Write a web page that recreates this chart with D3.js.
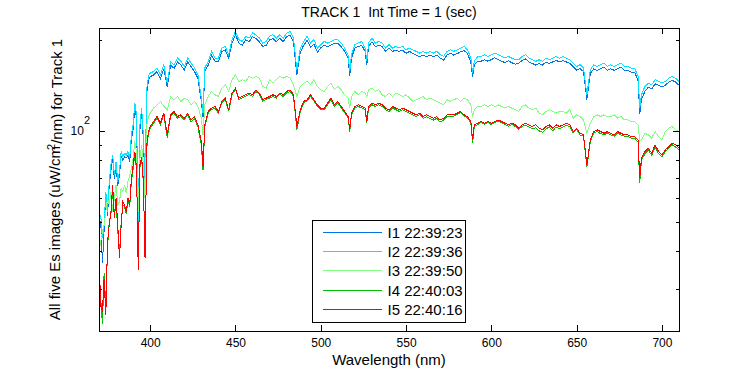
<!DOCTYPE html>
<html>
<head>
<meta charset="utf-8">
<script src="https://cdn.jsdelivr.net/npm/d3@7"></script>
<style>
body { margin: 0; background: #fff; }
svg { font-family: Arial, "Liberation Sans", sans-serif; }
.axis line { stroke: #000; shape-rendering: crispEdges; }
.axis text { font-size: 12px; fill: #000; }
</style>
</head>
<body>
<script>
// wavelength samples (nm)
const wavelengths = [370,371,372,373,374,375,376,377,378,379,380,381,382,383,384,385,386,387,388,389,390,391,392,393,394,395,396,397,398,399,400,
  402,404,406,408,410,412,414,416,418,420,422,424,426,428,430,431,432,434,436,438,
  440,442,444,446,448,450,452,454,456,458,460,462,464,466,468,470,472,474,476,478,480,482,484,486,488,490,492,494,496,498,500,502,504,506,508,
  510,512,514,516,517,518,520,522,524,526,527,528,530,532,534,536,538,540,542,544,546,548,550,552,554,556,558,560,562,564,566,568,570,572,574,576,
  578,580,582,584,586,588,589,590,592,594,596,598,600,602,604,606,608,610,612,614,616,618,620,622,624,626,628,630,632,634,636,638,640,642,644,646,
  648,650,652,654,656,658,660,662,664,666,668,670,672,674,676,678,680,682,684,686,687,688,690,692,694,696,698,700,702,704,706,708,710];

// Es images, uW/cm^2/nm
const I1 = [47.5,50.5,36.5,47,60.5,52.5,66,74,81,69.5,77,66,71.5,82.5,80,82,81.5,83,79,94,101,119,110,49,101,115,94,66,134,147,151,
  153,157,149,160,140,165,161,169,165,159,169,163,157,149,125,111,157,165,178,170,
  169,183,185,174,195,208,195,192,200,197,205,202,197,190,192,200,202,197,202,197,205,207,197,153,182,192,199,189,194,182,188,192,190,192,195,
  195,190,183,174,152,174,188,190,192,183,165,190,197,190,192,190,183,188,183,185,183,185,180.5,183,180.5,178,176,178,176,178,176,178,174,171.5,178,180.5,
  178,180,182.5,184.5,180,168.5,151,165,170,170,172,170,172,174.5,172,170,168,170.5,168,166,167,171,173,169,167,165,167,165,169,167,169,171,169,171,169,167,
  163,159,160.5,157,127,154.5,160.5,158.5,160.5,162.5,158.5,160.5,158.5,160.5,162.5,158.5,158.5,156.5,156.5,146.5,114,127,135,139.5,137.5,143,141.5,139.5,141.5,145,147,145,141.5];

const I2 = [48.8,52.7,44.1,48.8,63.0,54.1,68.0,77.2,83.3,71.5,79.1,68.0,73.3,85.4,82.2,84.3,83.3,85.4,81.2,97.0,104.7,123.5,113.0,50.1,104.7,118.9,97.0,68.0,138.4,151.3,155.2,
  157.2,161.3,153.2,165.4,143.8,169.7,165.4,174.0,169.7,163.3,174.0,167.5,161.3,153.2,128.3,114.4,161.3,169.7,183.1,174.0,
  174.0,187.8,190.3,178.5,200.1,213.3,200.1,197.6,205.3,202.7,210.6,207.9,202.7,195.1,197.6,205.3,207.9,202.7,207.9,202.7,210.6,213.3,202.7,159.2,187.8,197.6,205.3,195.1,200.1,187.8,192.7,197.6,195.1,197.6,200.1,
  200.1,195.1,187.8,178.5,157.2,178.5,192.7,195.1,197.6,187.8,169.7,195.1,202.7,195.1,197.6,195.1,187.8,192.7,187.8,190.3,187.8,190.3,185.4,187.8,185.4,183.1,180.8,183.1,180.8,183.1,180.8,183.1,178.5,176.2,183.1,185.4,
  183.1,185.4,187.8,190.3,185.4,174.0,155.2,169.7,176.2,176.2,178.5,176.2,178.5,180.8,178.5,176.2,174.0,176.2,174.0,171.8,171.8,176.2,178.5,174.0,171.8,169.7,171.8,169.7,174.0,171.8,174.0,176.2,174.0,176.2,174.0,171.8,
  167.5,163.3,165.4,161.3,131.6,159.2,165.4,163.3,165.4,167.5,163.3,165.4,163.3,165.4,167.5,163.3,163.3,161.3,161.3,151.3,118.9,131.6,140.2,143.8,142.0,147.6,145.7,143.8,145.7,149.4,151.3,149.4,145.7];

const I3 = [39.8,43.0,46.4,48.8,54.1,59.8,56.9,63.0,54.1,59.8,66.3,56.9,58.3,64.6,63.0,66.3,62.2,68.0,71.5,75.2,81.2,92.2,85.4,54.1,81.2,89.9,77.2,59.8,104.7,111.5,114.4,
  118.9,121.9,125.1,120.4,117.4,129.9,126.7,129.9,125.1,128.3,126.7,121.9,125.1,120.4,110.1,97.0,121.9,129.9,135.0,131.6,
  129.9,138.4,142.0,135.0,147.6,153.2,145.7,147.6,145.7,151.3,149.4,151.3,149.4,140.2,138.4,147.6,143.8,147.6,151.3,149.4,151.3,149.4,142.0,129.9,140.2,143.8,145.7,142.0,147.6,140.2,136.7,135.0,140.2,143.8,136.7,
  140.2,136.7,131.6,128.3,118.9,129.9,135.0,131.6,135.0,133.3,129.9,136.7,138.4,135.0,136.7,131.6,129.9,133.3,129.9,133.3,131.6,129.9,131.6,128.3,125.1,126.7,128.3,129.9,126.7,128.3,126.7,125.1,123.5,121.9,126.7,125.1,
  126.7,128.3,125.1,128.3,126.7,121.9,111.5,117.4,120.4,120.4,121.9,120.4,121.9,120.4,121.9,120.4,118.9,120.4,118.9,117.4,115.9,120.4,121.9,118.9,117.4,118.9,114.4,113.0,115.9,117.4,115.9,114.4,115.9,115.9,114.4,117.4,
  110.1,113.0,111.5,108.7,98.2,106.0,111.5,113.0,111.5,113.0,111.5,111.5,113.0,110.1,111.5,108.7,108.7,107.4,107.4,104.7,92.2,93.4,98.2,97.0,94.6,99.5,95.8,93.4,99.5,102.1,103.4,100.8,99.5];

const I4 = [36,28,23,34,26,41,50,53,64,53,58,47,39,50,57,56,53,59,56,68,75,84,74,36,76,81,67,39,88,98,102,
  106,110,104.5,113,95,112,114.5,110,111.5,109,113,107,110,103,90,74,103,114.5,117.5,119,
  114.5,124,127,116,132,137,127,128.5,130,132,130,135,132,125.5,127,128.5,130,128.5,132,130,133.5,135,130,101,116,124,125.5,130,125.5,120.5,117.5,117.5,122,127,120.5,
  124,119,115,110.5,99.5,113,119,120.5,119,117.5,106,119,122,120.5,122,120.5,117.5,116,119,117.5,116,117.5,116,114.5,113,111.5,113,110,111.5,110,108.5,110,107,108.5,111.5,111.5,
  112,113.5,115,112,110.5,106,91.5,103.5,105,106.5,105,106.5,105,106.5,107.5,106.5,105,103.5,105,103.5,101,103.5,104.5,103,101.5,102.5,100,99,101.5,103,100,103,101.5,103,104.5,103,
  98.5,101,97,96,76,92,98.5,99.5,98,97,98.5,97,96,98.5,97,96,96,94.5,94.5,92,67.5,80,84,86.5,83,88.5,84,82,85.5,87.5,90,88.5,86.5];

const I5 = [37.9,26.5,25.2,32.5,24.6,43.0,48.8,54.1,66.3,51.4,59.8,48.8,37.9,48.8,58.3,56.9,54.1,59.8,56.9,69.7,77.2,85.4,75.2,34.6,77.2,82.2,68.0,37.9,89.9,99.5,103.4,
  107.4,111.5,106.0,114.4,97.0,113.0,115.9,111.5,113.0,110.1,114.4,108.7,111.5,104.7,92.2,76.2,104.7,115.9,118.9,120.4,
  115.9,125.1,128.3,117.4,133.3,138.4,128.3,129.9,131.6,133.3,131.6,136.7,133.3,126.7,128.3,129.9,131.6,129.9,133.3,131.6,135.0,136.7,131.6,103.4,117.4,125.1,126.7,131.6,126.7,121.9,118.9,118.9,123.5,128.3,121.9,
  125.1,120.4,115.9,111.5,100.8,114.4,120.4,121.9,120.4,118.9,107.4,120.4,123.5,121.9,123.5,121.9,118.9,117.4,120.4,118.9,117.4,118.9,117.4,115.9,114.4,113.0,114.4,111.5,113.0,111.5,110.1,111.5,108.7,110.1,113.0,113.0,
  113.0,114.4,115.9,113.0,111.5,107.4,93.4,104.7,106.0,107.4,106.0,107.4,106.0,107.4,108.7,107.4,106.0,104.7,106.0,104.7,102.1,104.7,106.0,104.7,103.4,104.7,102.1,100.8,103.4,104.7,102.1,104.7,103.4,104.7,106.0,104.7,
  99.5,102.1,98.2,97.0,77.2,93.4,99.5,100.8,99.5,98.2,99.5,98.2,97.0,99.5,98.2,97.0,97.0,95.8,95.8,93.4,69.7,81.2,85.4,87.6,84.3,89.9,85.4,83.3,86.5,88.7,91.0,89.9,87.6];

const seriesNames = ["I1 22:39:23", "I2 22:39:36", "I3 22:39:50", "I4 22:40:03", "I5 22:40:16"];
const seriesColors = ["#0073e6", "#00e6ff", "#80ff80", "#00c000", "#ff0000"];
const allSeries = [I1, I2, I3, I4, I5];

const xTicks = [400, 450, 500, 550, 600, 650, 700];
const yMajorTicks = [100];
const yMinorTicks = [30, 40, 50, 60, 70, 80, 90, 200];

const W = 750, H = 375;
const plotLeft = 99, plotRight = 679, plotTop = 28, plotBottom = 331;

const svg = d3.select("body").append("svg")
    .attr("width", W)
    .attr("height", H);

// scales
const x = d3.scaleLinear().domain([370, 710]).range([plotLeft, plotRight]);
const y = d3.scaleLog().domain([21.8, 218.8]).range([plotBottom, plotTop]);

// clip the spectra to the axes box
svg.append("clipPath").attr("id", "plotclip")
    .append("rect").attr("x", plotLeft).attr("y", plotTop)
    .attr("width", plotRight - plotLeft).attr("height", plotBottom - plotTop);

const line = d3.line()
    .x(d => x(d[0]))
    .y(d => y(d[1]));

const plot = svg.append("g").attr("clip-path", "url(#plotclip)");
allSeries.forEach((vals, k) => {
    plot.append("path")
        .datum(wavelengths.map((w, i) => [w, vals[i]]))
        .attr("d", line)
        .attr("fill", "none")
        .attr("stroke", seriesColors[k])
        .attr("stroke-width", 1)
        .attr("shape-rendering", "crispEdges");
});

// x axes (bottom with labels, top ticks only)
svg.append("g").attr("class", "axis")
    .attr("transform", "translate(0," + plotBottom + ")")
    .call(d3.axisBottom(x).tickValues(xTicks).tickSize(-6).tickPadding(7))
    .call(g => g.select(".domain").remove());
svg.append("g").attr("class", "axis")
    .attr("transform", "translate(0," + plotTop + ")")
    .call(d3.axisTop(x).tickValues(xTicks).tickSize(-6).tickFormat(""))
    .call(g => g.select(".domain").remove());

// y axes (log)
const yl = svg.append("g").attr("class", "axis")
    .attr("transform", "translate(" + plotLeft + ",0)")
    .call(d3.axisLeft(y).tickValues(yMajorTicks).tickSize(-6).tickPadding(9).tickFormat(() => "10"))
    .call(g => g.select(".domain").remove());
yl.selectAll(".tick text").append("tspan")
    .attr("dy", "-1.05em").attr("font-size", "11px").text("2");
svg.append("g").attr("class", "axis")
    .attr("transform", "translate(" + plotLeft + ",0)")
    .call(d3.axisLeft(y).tickValues(yMinorTicks).tickSize(-3).tickFormat(""))
    .call(g => g.select(".domain").remove());
svg.append("g").attr("class", "axis")
    .attr("transform", "translate(" + plotRight + ",0)")
    .call(d3.axisRight(y).tickValues(yMajorTicks).tickSize(-6).tickFormat(""))
    .call(g => g.select(".domain").remove());
svg.append("g").attr("class", "axis")
    .attr("transform", "translate(" + plotRight + ",0)")
    .call(d3.axisRight(y).tickValues(yMinorTicks).tickSize(-3).tickFormat(""))
    .call(g => g.select(".domain").remove());

// axes box
svg.append("rect")
    .attr("x", plotLeft + 0.5).attr("y", plotTop + 0.5)
    .attr("width", plotRight - plotLeft).attr("height", plotBottom - plotTop)
    .attr("fill", "none").attr("stroke", "#000")
    .attr("shape-rendering", "crispEdges");

// title and labels
svg.append("text")
    .attr("x", (plotLeft + plotRight) / 2).attr("y", 17)
    .attr("text-anchor", "middle").attr("font-size", "14px")
    .text("TRACK 1\u00a0\u00a0Int Time = 1 (sec)");

svg.append("text")
    .attr("x", (plotLeft + plotRight) / 2).attr("y", 365)
    .attr("text-anchor", "middle").attr("font-size", "15px")
    .text("Wavelength (nm)");

const ylab = svg.append("text")
    .attr("transform", "translate(60," + (plotTop + plotBottom) / 2 + ") rotate(-90)")
    .attr("text-anchor", "middle").attr("font-size", "15px");
ylab.append("tspan").text("All five Es images (uW/cm");
ylab.append("tspan").attr("dy", "-0.45em").attr("dx", "-4").attr("font-size", "11px").text("2");
ylab.append("tspan").attr("dy", "0.45em").text("/nm) for Track 1");

// legend
const lg = svg.append("g").attr("transform", "translate(312.5,220.5)");
lg.append("rect").attr("width", 153).attr("height", 102)
    .attr("fill", "#fff").attr("stroke", "#000")
    .attr("shape-rendering", "crispEdges");
seriesNames.forEach((name, k) => {
    const ry = 12 + k * 19.2;
    lg.append("line")
        .attr("x1", 10).attr("x2", 69)
        .attr("y1", ry).attr("y2", ry)
        .attr("stroke", seriesColors[k])
        .attr("shape-rendering", "crispEdges");
    lg.append("text")
        .attr("x", 75).attr("y", ry + 5.5)
        .attr("font-size", "15px")
        .text(name);
});
</script>
</body>
</html>
